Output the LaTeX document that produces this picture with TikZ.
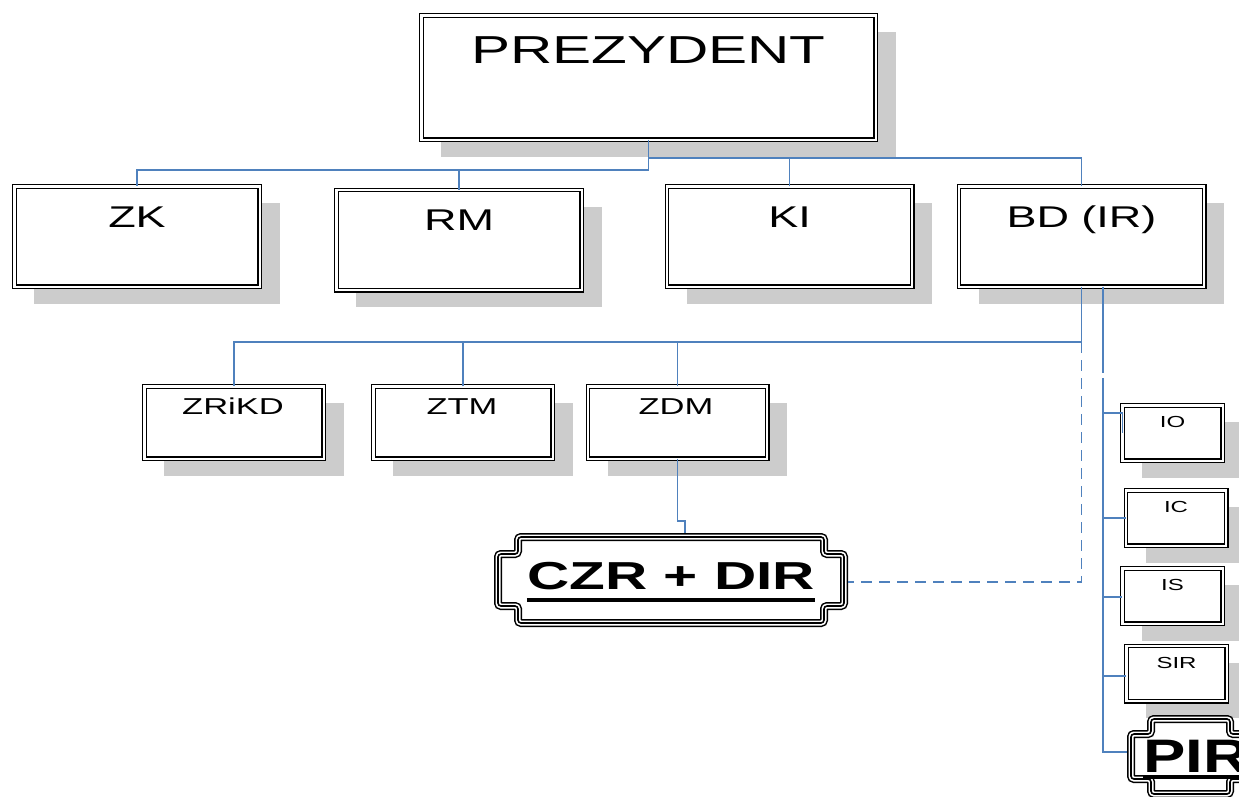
\documentclass[tikz,border=0pt]{standalone}
\usepackage{fontspec}
\setmainfont{Liberation Sans}[FakeStretch=1.5]
\newfontfamily\pirfont{Liberation Sans}[FakeStretch=1.35]
\usetikzlibrary{shadows,calc}
\definecolor{lnk}{HTML}{4F81BD}
\definecolor{shd}{HTML}{CCCCCC}
\newcommand\plq[6]{% L T R B a b (centre line of the triple frame)
  \fill[white] ({#1+#5},#2) -- ({#3-#5},#2) -- ({#3-#5},{#2+#6}) -- (#3,{#2+#6}) -- (#3,{#4-#6}) -- ({#3-#5},{#4-#6}) -- ({#3-#5},#4) -- ({#1+#5},#4) -- ({#1+#5},{#4-#6}) -- (#1,{#4-#6}) -- (#1,{#2+#6}) -- ({#1+#5},{#2+#6}) -- cycle;
  \foreach \lw/\lc in {8/black,5/white,1.6/black}{%
    \draw[line width=\lw pt, draw=\lc, rounded corners=3pt] ({#1+#5},#2) -- ({#3-#5},#2) -- ({#3-#5},{#2+#6}) -- (#3,{#2+#6}) -- (#3,{#4-#6}) -- ({#3-#5},{#4-#6}) -- ({#3-#5},#4) -- ({#1+#5},#4) -- ({#1+#5},{#4-#6}) -- (#1,{#4-#6}) -- (#1,{#2+#6}) -- ({#1+#5},{#2+#6}) -- cycle;}}
\begin{document}
\begin{tikzpicture}[x=1pt,y=-1pt,
  box/.style={draw=black, line width=1.1pt, double=white, double distance=2.4pt, fill=white,
    inner sep=0pt, outer sep=0pt,
    drop shadow={shadow xshift=20pt, shadow yshift=-17pt, fill=shd, opacity=1}},
  l1/.style={box, minimum width=245.4pt, minimum height=100.4pt},
  l2/.style={box, minimum width=179.4pt, minimum height=72.4pt},
  l3/.style={box, minimum width=100.4pt, minimum height=55.4pt},
  lbl/.style={anchor=base, inner sep=0pt, text=black},
  f0/.style={font=\fontsize{39pt}{39pt}\selectfont},
  f1/.style={font=\fontsize{30pt}{30pt}\selectfont},
  f2/.style={font=\fontsize{23pt}{23pt}\selectfont},
  f3/.style={font=\fontsize{16pt}{16pt}\selectfont},
  link/.style={draw=lnk, line width=1.4pt},
  dlink/.style={link, dash pattern=on 11pt off 7pt},
  uline/.style={draw=black, line width=3.6pt}]
\useasboundingbox (0,0) rectangle (1239,796);
\clip (0,0) rectangle (1239,796);
\fill[white] (0,0) rectangle (1239,796);

% top
\node[box, minimum width=454.4pt, minimum height=124.4pt] (prez) at (648.5,77.5) {};
\node[lbl, f0] (prezt) at (648.5,63) {PREZYDENT};

% level 1
\node[l1] (zk) at (137,236.5) {};
\node[lbl, f1] (zkt) at (137,227) {ZK};
\node[l1] (rm) at (459,240) {};
\node[lbl, f1] (rmt) at (459,230) {RM};
\node[l1] (ki) at (789.5,236.5) {};
\node[lbl, f1] (kit) at (789.5,227) {KI};
\node[l1] (bd) at (1081.5,236.5) {};
\node[lbl, f1] (bdt) at (1081.5,227) {BD (IR)};

% level 2
\node[l2] (zrikd) at (234,422.5) {};
\node[lbl, f2] (zrikdt) at (233,414) {ZRiKD};
\node[l2] (ztm) at (463,422.5) {};
\node[lbl, f2] (ztmt) at (462,414) {ZTM};
\node[l2] (zdm) at (677.5,422.5) {};
\node[lbl, f2] (zdmt) at (676,414) {ZDM};

% right column
\node[l3] (io) at (1172.5,433) {};
\node[lbl, f3] (iot) at (1172.5,427) {IO};
\node[l3] (ic) at (1176,518) {};
\node[lbl, f3] (ict) at (1176,512) {IC};
\node[l3] (is) at (1172.5,596) {};
\node[lbl, f3] (ist) at (1172.5,590) {IS};
\node[l3] (sir) at (1176.5,673.5) {};
\node[lbl, f3] (sirt) at (1176.5,668) {SIR};

% CZR + DIR plaque
\node[minimum width=354pt, minimum height=94pt, inner sep=0pt, outer sep=0pt] (czr) at (671,580) {};
\plq{498}{537}{844}{623}{20}{17}
\node[lbl, font=\bfseries\fontsize{39pt}{39pt}\selectfont] (czrt) at (671,589) {CZR + DIR};
\draw[uline] ([yshift=-11pt]czrt.base west) -- ([yshift=-11pt]czrt.base east);

% PIR plaque
\node[minimum width=127pt, minimum height=83pt, inner sep=0pt, outer sep=0pt] (pir) at (1190.5,756.5) {};
\plq{1131}{719}{1250}{794}{20}{15}
\node[lbl, anchor=base west, font=\pirfont\bfseries\fontsize{47pt}{47pt}\selectfont] (pirt) at (1143,772) {PIR};
\draw[uline] ([yshift=-5pt]pirt.base west) -- ([yshift=-5pt]pirt.base east);

% connectors
\coordinate (busL) at (0,170);
\coordinate (busR) at (0,158);
\coordinate (bus2) at (0,342);
\draw[link] (prez.south) -- (prez.south |- busL) -| (zk.north);
\draw[link] (rm.north) -- (rm.north |- busL);
\draw[link] (prez.south |- busR) -| (bd.north);
\draw[link] (ki.north) -- (ki.north |- busR);

\draw[link] (bd.south) -- (bd.south |- bus2) -| (zrikd.north);
\draw[link] (ztm.north) -- (ztm.north |- bus2);
\draw[link] (zdm.north) -- (zdm.north |- bus2);
\draw[dlink] (bd.south |- bus2) -- (bd.south |- 0,582) -- (czr.east |- 0,582);

\coordinate (j) at (685,521);
\draw[link] (zdm.south) |- (j) -- (j |- czr.north);

\coordinate (vb) at ($(bd.south)+(21.5,0)$);
\draw[link] (vb) -- (vb |- 0,373);
\draw[link] (vb |- 0,378) -- (vb |- 0,752) -- (pir.west |- 0,752);
\draw[link] (vb |- 0,413) -| (io.west);
\draw[link] (vb |- ic.west) -- (ic.west);
\draw[link] (vb |- 0,597) -- (is.west |- 0,597);
\draw[link] (vb |- 0,676) -- (sir.west |- 0,676);
\end{tikzpicture}
\end{document}
